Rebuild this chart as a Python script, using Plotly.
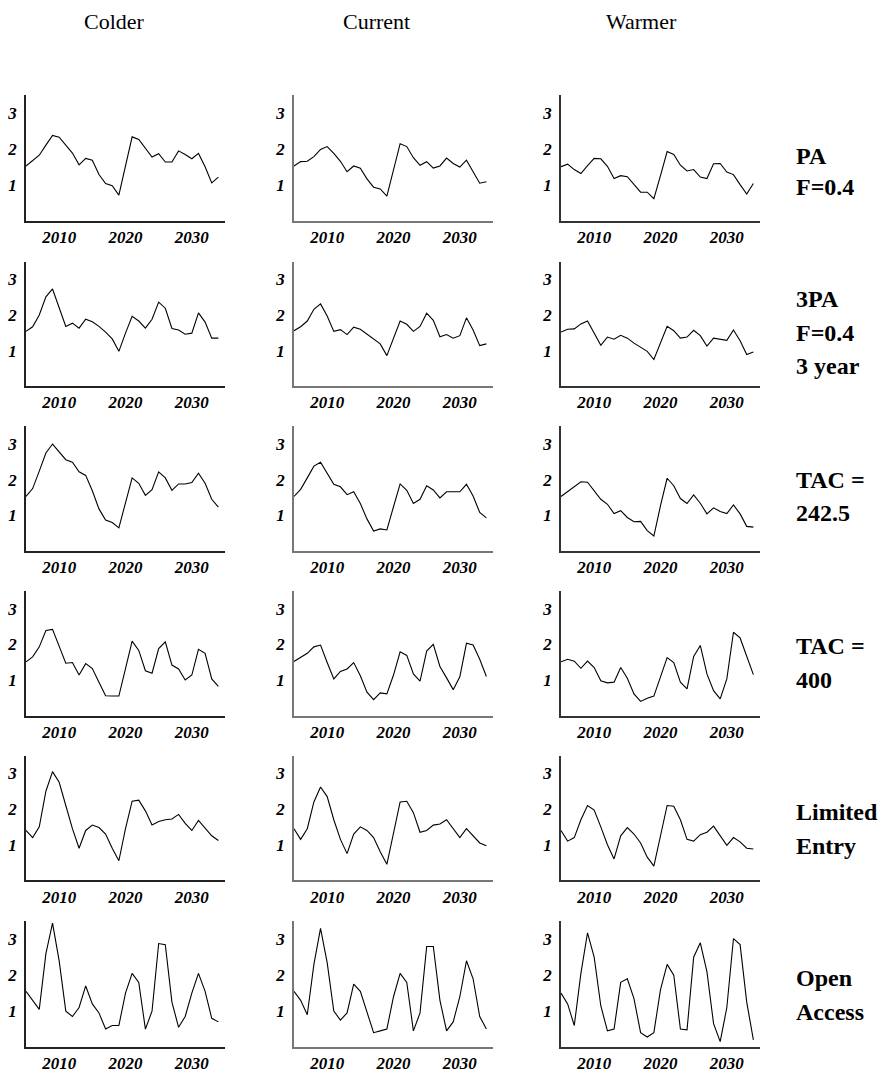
import plotly.graph_objects as go

W, H = 886, 1073
years = list(range(2005, 2035))

columns = ["Colder", "Current", "Warmer"]
row_labels = [["PA", "F=0.4"], ["3PA", "F=0.4", "3 year"], ["TAC =", "242.5"],
              ["TAC =", "400"], ["Limited", "Entry"], ["Open", "Access"]]

pa_colder = [1.52, 1.67, 1.82, 2.10, 2.37, 2.32, 2.10, 1.88, 1.55, 1.73, 1.68, 1.28, 1.03, 0.97, 0.71,
             1.52, 2.33, 2.26, 2.00, 1.77, 1.86, 1.63, 1.63, 1.94, 1.84, 1.72, 1.87, 1.50, 1.05, 1.21]
pa_current = [1.52, 1.64, 1.65, 1.78, 1.98, 2.06, 1.87, 1.65, 1.36, 1.52, 1.46, 1.16, 0.93, 0.88, 0.68,
              1.40, 2.14, 2.06, 1.75, 1.54, 1.64, 1.46, 1.52, 1.74, 1.59, 1.49, 1.68, 1.36, 1.04, 1.08]
pa_warmer = [1.50, 1.57, 1.42, 1.31, 1.53, 1.73, 1.72, 1.51, 1.17, 1.25, 1.22, 1.00, 0.79, 0.79, 0.61,
             1.25, 1.92, 1.84, 1.54, 1.38, 1.42, 1.21, 1.17, 1.58, 1.59, 1.35, 1.28, 1.00, 0.74, 1.03]

pa3_colder = [1.54, 1.67, 2.00, 2.51, 2.73, 2.23, 1.68, 1.77, 1.63, 1.88, 1.81, 1.68, 1.52, 1.33, 0.98,
              1.49, 1.96, 1.83, 1.63, 1.88, 2.36, 2.19, 1.62, 1.58, 1.46, 1.49, 2.06, 1.80, 1.35, 1.35]
pa3_current = [1.56, 1.67, 1.83, 2.16, 2.31, 1.97, 1.54, 1.59, 1.45, 1.66, 1.60, 1.47, 1.32, 1.19, 0.86,
               1.35, 1.83, 1.74, 1.54, 1.68, 2.05, 1.85, 1.39, 1.45, 1.35, 1.42, 1.92, 1.58, 1.14, 1.19]
pa3_warmer = [1.52, 1.60, 1.61, 1.75, 1.83, 1.49, 1.15, 1.38, 1.32, 1.43, 1.35, 1.21, 1.10, 0.98, 0.75,
              1.20, 1.68, 1.56, 1.35, 1.38, 1.57, 1.42, 1.13, 1.35, 1.32, 1.29, 1.58, 1.28, 0.89, 0.96]

tac242_colder = [1.53, 1.75, 2.24, 2.75, 3.00, 2.78, 2.56, 2.49, 2.22, 2.12, 1.69, 1.18, 0.87, 0.80, 0.65,
                 1.35, 2.05, 1.90, 1.56, 1.72, 2.22, 2.05, 1.70, 1.88, 1.88, 1.92, 2.18, 1.90, 1.45, 1.23]
tac242_current = [1.53, 1.73, 2.05, 2.38, 2.49, 2.17, 1.87, 1.80, 1.58, 1.66, 1.33, 0.90, 0.56, 0.62, 0.59,
                  1.24, 1.88, 1.70, 1.33, 1.45, 1.83, 1.71, 1.49, 1.66, 1.66, 1.66, 1.87, 1.54, 1.08, 0.93]
tac242_warmer = [1.53, 1.66, 1.81, 1.94, 1.93, 1.68, 1.45, 1.31, 1.05, 1.13, 0.94, 0.82, 0.83, 0.57, 0.42,
                 1.27, 2.04, 1.83, 1.47, 1.33, 1.57, 1.34, 1.04, 1.21, 1.11, 1.05, 1.29, 1.04, 0.69, 0.67]

tac400_colder = [1.51, 1.65, 1.93, 2.39, 2.42, 1.95, 1.47, 1.49, 1.14, 1.46, 1.32, 0.94, 0.56, 0.55, 0.55,
                 1.32, 2.09, 1.83, 1.26, 1.19, 1.88, 2.07, 1.42, 1.31, 1.00, 1.14, 1.86, 1.75, 1.03, 0.82]
tac400_current = [1.52, 1.63, 1.75, 1.93, 1.98, 1.49, 1.03, 1.24, 1.31, 1.49, 1.12, 0.66, 0.45, 0.64, 0.61,
                  1.14, 1.79, 1.69, 1.17, 0.97, 1.81, 2.00, 1.38, 1.06, 0.73, 1.09, 2.03, 1.98, 1.58, 1.10]
tac400_warmer = [1.51, 1.58, 1.53, 1.33, 1.53, 1.35, 0.98, 0.92, 0.94, 1.35, 1.05, 0.61, 0.40, 0.49, 0.55,
                 1.12, 1.63, 1.49, 0.94, 0.75, 1.66, 1.97, 1.17, 0.70, 0.47, 1.03, 2.34, 2.18, 1.69, 1.15]

le_colder = [1.40, 1.20, 1.50, 2.50, 3.05, 2.75, 2.10, 1.45, 0.90, 1.40, 1.55, 1.48, 1.30, 0.90, 0.55,
             1.45, 2.22, 2.25, 1.95, 1.55, 1.65, 1.70, 1.72, 1.85, 1.60, 1.40, 1.68, 1.48, 1.25, 1.12]
le_current = [1.45, 1.15, 1.45, 2.20, 2.62, 2.35, 1.70, 1.15, 0.75, 1.30, 1.50, 1.40, 1.20, 0.80, 0.45,
              1.30, 2.20, 2.22, 1.90, 1.35, 1.40, 1.55, 1.58, 1.70, 1.45, 1.20, 1.45, 1.25, 1.05, 0.97]
le_warmer = [1.40, 1.10, 1.20, 1.70, 2.10, 1.97, 1.50, 1.00, 0.60, 1.25, 1.48, 1.30, 1.05, 0.65, 0.40,
             1.30, 2.10, 2.08, 1.70, 1.15, 1.10, 1.28, 1.35, 1.52, 1.25, 0.98, 1.20, 1.08, 0.90, 0.88]

oa_colder = [1.55, 1.30, 1.05, 2.60, 3.45, 2.40, 1.00, 0.85, 1.10, 1.70, 1.20, 0.95, 0.50, 0.60, 0.60,
             1.50, 2.05, 1.80, 0.50, 1.00, 2.88, 2.85, 1.25, 0.55, 0.85, 1.50, 2.05, 1.55, 0.80, 0.70]
oa_current = [1.55, 1.30, 0.90, 2.30, 3.30, 2.35, 1.00, 0.75, 0.95, 1.75, 1.55, 1.00, 0.40, 0.45, 0.50,
              1.40, 2.05, 1.80, 0.45, 0.95, 2.80, 2.80, 1.30, 0.45, 0.70, 1.40, 2.40, 1.90, 0.85, 0.50]
oa_warmer = [1.50, 1.20, 0.60, 2.05, 3.18, 2.50, 1.15, 0.45, 0.50, 1.80, 1.90, 1.35, 0.40, 0.28, 0.40,
             1.60, 2.30, 2.00, 0.50, 0.48, 2.50, 2.90, 2.10, 0.65, 0.15, 1.10, 3.02, 2.85, 1.25, 0.20]

series = [
    [pa_colder, pa_current, pa_warmer],
    [pa3_colder, pa3_current, pa3_warmer],
    [tac242_colder, tac242_current, tac242_warmer],
    [tac400_colder, tac400_current, tac400_warmer],
    [le_colder, le_current, le_warmer],
    [oa_colder, oa_current, oa_warmer],
]

x_ticks = [2010, 2020, 2030]
y_ticks = [1, 2, 3]

SERIF = "'Times New Roman', 'Liberation Serif', Times, serif"

# layout geometry (pixels)
col_x = [(26, 225), (294, 493), (561, 760)]
row_y = [(95, 221), (262, 387), (427, 552), (592, 717), (757, 882), (923, 1049)]
axis_colors = ["#222222", "#777777", "#333333"]

fig = go.Figure()
layout = dict(
    width=W, height=H, margin=dict(l=0, r=0, t=0, b=0),
    paper_bgcolor="white", plot_bgcolor="white", showlegend=False,
)
tickfont = dict(family=SERIF, size=17, color="black", weight="bold", style="italic")

k = 0
for r in range(6):
    for c in range(3):
        k += 1
        xa = "x" if k == 1 else f"x{k}"
        ya = "y" if k == 1 else f"y{k}"
        fig.add_trace(go.Scatter(x=years, y=series[r][c], mode="lines",
                                 line=dict(color="black", width=1.1),
                                 xaxis=xa, yaxis=ya, hoverinfo="skip"))
        x0, x1 = col_x[c]
        y0, y1 = row_y[r]
        layout["xaxis" if k == 1 else f"xaxis{k}"] = dict(
            domain=[x0 / W, x1 / W], range=[2005, 2035], anchor=ya,
            tickvals=x_ticks, ticks="", showgrid=False, zeroline=False,
            showline=True, linecolor=axis_colors[c], linewidth=1.5,
            tickfont=tickfont, ticklabelstandoff=0,
        )
        layout["yaxis" if k == 1 else f"yaxis{k}"] = dict(
            domain=[1 - y1 / H, 1 - y0 / H], range=[0, 3.5], anchor=xa,
            tickvals=y_ticks, ticks="", showgrid=False, zeroline=False,
            showline=True, linecolor=axis_colors[c], linewidth=1.5,
            tickfont=tickfont, ticklabelstandoff=4,
        )

annotations = []
title_x = [114, 376, 641]
for c, name in enumerate(columns):
    annotations.append(dict(text=name, x=title_x[c] / W, y=1 - 22 / H, xref="paper", yref="paper",
                            showarrow=False, xanchor="center", yanchor="middle",
                            font=dict(family=SERIF, size=22, color="black")))

label_line_y = [[156, 187], [300, 334, 367], [481, 514], [647, 681], [814, 848], [980, 1014]]
for r, lines in enumerate(row_labels):
    for i, t in enumerate(lines):
        annotations.append(dict(text=t, x=794 / W, y=1 - label_line_y[r][i] / H,
                                xref="paper", yref="paper", showarrow=False,
                                xanchor="left", yanchor="middle",
                                font=dict(family=SERIF, size=24, color="black", weight="bold")))
layout["annotations"] = annotations
fig.update_layout(**layout)
fig.write_html("out.html")
